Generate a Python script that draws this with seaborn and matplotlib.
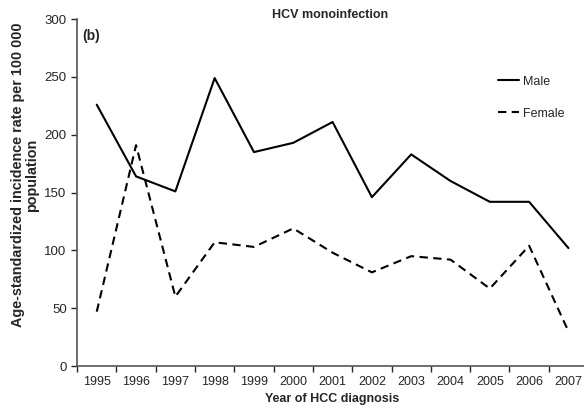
import matplotlib
matplotlib.use('Agg')
import matplotlib.pyplot as plt
import pandas as pd
import seaborn as sns

# values
years = ['1995', '1996', '1997', '1998', '1999', '2000', '2001',
         '2002', '2003', '2004', '2005', '2006', '2007']
male = [226, 164, 151, 249, 185, 193, 211, 146, 183, 160, 142, 142, 102]
female = [47, 191, 60, 107, 103, 119, 98, 81, 95, 92, 67, 104, 30]

df = pd.DataFrame({
    'year': years * 2,
    'rate': male + female,
    'sex': ['Male'] * len(years) + ['Female'] * len(years),
})

sns.set_style('ticks')
plt.rcParams['font.family'] = ['Liberation Sans', 'DejaVu Sans']

fig = plt.figure(figsize=(5.84, 4.15), dpi=100)
ax = fig.add_axes([0.132, 0.118, 1.007 - 0.132, 0.954 - 0.118])

sns.lineplot(data=df, x='year', y='rate', style='sex', color='black',
             dashes={'Male': '', 'Female': (4, 2.6)}, linewidth=1.5,
             ax=ax, legend=False)

ax.set_xlim(-0.5, len(years) - 0.5)
ax.set_ylim(0, 300)
ax.set_yticks(range(0, 301, 50))
ax.set_xticks(range(len(years)))
ax.set_xticklabels(years)
ax.set_xticks([i - 0.5 for i in range(len(years) + 1)], minor=True)
ax.tick_params(axis='x', which='major', length=0, labelsize=9, pad=7)
ax.tick_params(axis='x', which='minor', length=4, width=1, direction='out')
ax.tick_params(axis='y', length=4, width=1, labelsize=9.5)
for s in ['top', 'right']:
    ax.spines[s].set_visible(False)
for s in ['left', 'bottom']:
    ax.spines[s].set_color('#555555')
    ax.spines[s].set_linewidth(1.2)

ax.set_xlabel('Year of HCC diagnosis', fontsize=9, fontweight='bold', labelpad=4)
ax.set_ylabel('Age-standardized incidence rate per 100 000\npopulation',
              fontsize=10.4, fontweight='bold', linespacing=0.95)
ax.yaxis.set_label_coords(-0.075, 0.55)

fig.text(0.565, 0.963, 'HCV monoinfection', ha='center', va='center',
         fontsize=9, fontweight='bold')
ax.text(0.01, 0.95, '(b)', transform=ax.transAxes, ha='left', va='center',
        fontsize=10, fontweight='bold')

handles = [plt.Line2D([], [], color='black', lw=1.5),
           plt.Line2D([], [], color='black', lw=1.5, dashes=(4, 2.6))]
fig.legend(handles, ['Male', 'Female'], loc='upper left',
           bbox_to_anchor=(0.853, 0.818), frameon=False, fontsize=9,
           handlelength=1.7, handletextpad=0.25, labelspacing=1.6,
           borderpad=0, borderaxespad=0)

fig.savefig('out.png', dpi=100)
